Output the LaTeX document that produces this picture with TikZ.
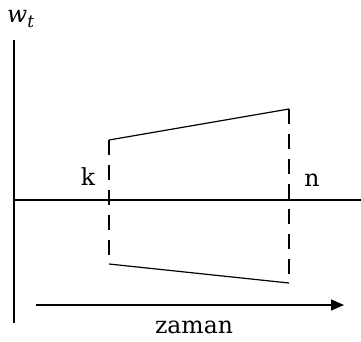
\documentclass[tikz,border=0pt]{standalone}
\usepackage{fontspec}
\setmainfont{DejaVu Serif}
\usetikzlibrary{arrows.meta}
\begin{document}
\begin{tikzpicture}[x=1pt,y=-1pt,
  axis/.style={line width=1.5pt},
  solidline/.style={line width=1.2pt},
  dashline/.style={line width=1.3pt, dash pattern=on 15pt off 10pt},
  lbl/.style={inner sep=0pt, font=\fontsize{23.5}{27}\selectfont}]
\useasboundingbox (0,0) rectangle (361,341);
% axes
\coordinate (vtop) at (14,40);
\coordinate (vbot) at (14,323);
\coordinate (hl) at (14,200);
\coordinate (hr) at (361,200);
\draw[axis] (vtop) -- (vbot);
\draw[axis] (hl) -- (hr);
% shape
\coordinate (kt) at (109,140);
\coordinate (kb) at (109,264);
\coordinate (nt) at (289,109);
\coordinate (nb) at (289,283);
\draw[dashline] (kt) -- (kb);
\draw[dashline] (nt) -- (nb);
\draw[solidline] (kt) -- (nt);
\draw[solidline] (kb) -- (nb);
% time arrow
\coordinate (as) at (36,305);
\coordinate (ae) at (344,305);
\draw[line width=1.4pt, -{Triangle[length=13pt,width=11pt]}] (as) -- (ae);
% labels
\node[lbl, anchor=base west] (wt) at (7,22) {\itshape w\raisebox{-5pt}{\fontsize{17}{19}\selectfont t}};
\node[lbl, anchor=base] (k) at (88,185) {k};
\node[lbl, anchor=base] (n) at (312,186) {n};
\node[lbl, anchor=base] (zaman) at (194,333) {zaman};
\end{tikzpicture}
\end{document}
